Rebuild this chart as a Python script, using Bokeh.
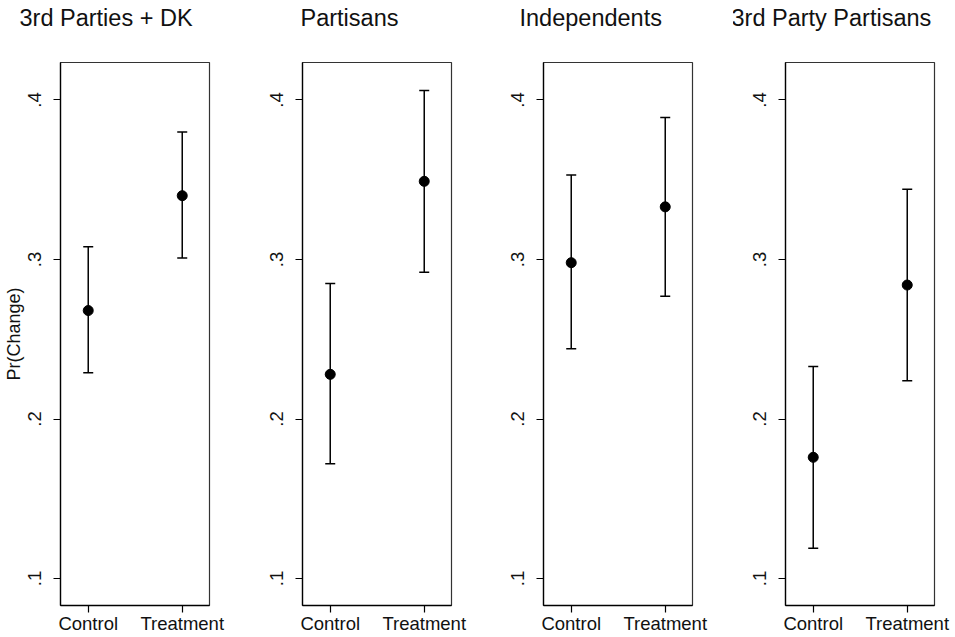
from bokeh.plotting import figure
from bokeh.layouts import row
from bokeh.models import Range1d, FixedTicker, Title
from bokeh.embed import file_html
from bokeh.resources import INLINE

groups = ["3rd Parties + DK", "Partisans", "Independents", "3rd Party Partisans"]
conditions = ["Control", "Treatment"]
cond_pos = [1, 2]

est_control = [0.268, 0.228, 0.298, 0.176]
lo_control = [0.229, 0.172, 0.244, 0.119]
hi_control = [0.308, 0.285, 0.353, 0.233]

est_treat = [0.340, 0.349, 0.333, 0.284]
lo_treat = [0.301, 0.292, 0.277, 0.224]
hi_treat = [0.380, 0.406, 0.389, 0.344]

y_ticks = [0.1, 0.2, 0.3, 0.4]
y_tick_labels = [".1", ".2", ".3", ".4"]

FONT = "Liberation Sans"
widths = [250, 241, 242, 218]
left_borders = [60, 52, 52, 52]
title_offsets = [-41, -2, -24, -54]
frame_w = 149
H = 636
frame_top = 62
frame_bottom = 605

figs = []
for i, g in enumerate(groups):
    w = widths[i]
    lb = left_borders[i]
    p = figure(width=w, height=H, output_backend="svg", toolbar_location=None, title=None,
               x_range=Range1d(0.705, 2.29), y_range=Range1d(0.0831, 0.4235),
               min_border_left=lb, min_border_right=w - lb - frame_w,
               min_border_top=frame_top, min_border_bottom=H - frame_bottom)
    # spacer between frame and title (closest to frame)
    p.add_layout(Title(text=" ", text_font=FONT, text_font_size="23.5px", standoff=2), "above")
    p.add_layout(Title(text=g, text_font=FONT, text_font_size="23.5px", text_font_style="normal",
                       text_color="#111111", align="left", offset=title_offsets[i], standoff=4),
                 "above")

    p.xgrid.visible = False
    p.ygrid.visible = False
    p.outline_line_color = "#333333"
    p.outline_line_width = 1.2
    p.background_fill_color = "white"
    p.border_fill_color = "white"

    ys = [est_control[i], est_treat[i]]
    los = [lo_control[i], lo_treat[i]]
    his = [hi_control[i], hi_treat[i]]

    p.segment(x0=cond_pos, y0=los, x1=cond_pos, y1=his, line_color="black", line_width=1.5)
    p.scatter(x=cond_pos, y=los, marker="dash", size=10, line_color="black", line_width=1.5)
    p.scatter(x=cond_pos, y=his, marker="dash", size=10, line_color="black", line_width=1.5)
    p.scatter(x=cond_pos, y=ys, marker="circle", size=10, fill_color="black", line_color="black")

    xa = p.xaxis[0]
    xa.ticker = FixedTicker(ticks=cond_pos)
    xa.major_label_overrides = {cond_pos[k]: conditions[k] for k in range(2)}
    ya = p.yaxis[0]
    ya.ticker = FixedTicker(ticks=y_ticks)
    ya.major_label_overrides = {y_ticks[k]: y_tick_labels[k] for k in range(4)}
    ya.major_label_orientation = "vertical"
    for ax in (xa, ya):
        ax.axis_line_color = "black"
        ax.axis_line_width = 1.3
        ax.major_tick_line_color = "black"
        ax.major_tick_line_width = 1.2
        ax.major_tick_out = 7
        ax.major_tick_in = 0
        ax.minor_tick_line_color = None
        ax.major_label_text_font = FONT
        ax.major_label_text_font_size = "18.5px"
        ax.major_label_text_color = "#111111"
    xa.major_label_standoff = 0
    ya.major_label_standoff = 12
    if i == 0:
        ya.axis_label = "Pr(Change)"
        ya.axis_label_text_font = FONT
        ya.axis_label_text_font_size = "18px"
        ya.axis_label_text_font_style = "normal"
        ya.axis_label_text_color = "#111111"
        ya.axis_label_standoff = 2
    figs.append(p)

layout = row(*figs)
open("out.html", "w").write(file_html(layout, INLINE))
